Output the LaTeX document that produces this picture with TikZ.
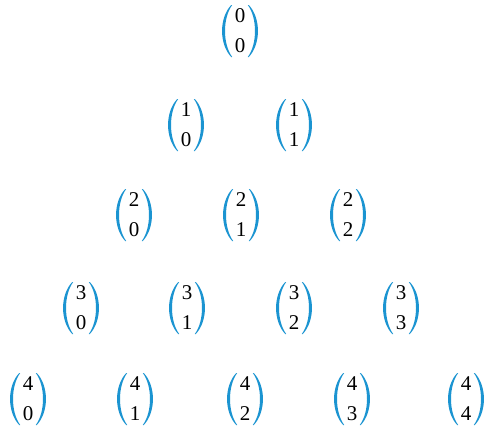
\documentclass[tikz,border=0pt]{standalone}
\usepackage{fontspec}
\setmainfont{Liberation Serif}
\definecolor{pblue}{RGB}{27,148,209}
\tikzset{
  binnode/.style={inner sep=0pt, align=center, font=\fontsize{21}{30}\selectfont},
}
\newcommand\parens[1]{%
  \begin{scope}[shift={(#1.center)}]
    \fill[pblue] (-8.8,-26) .. controls (-21,-13) and (-21,13) .. (-8.8,26)
      -- (-7.8,26) .. controls (-17.4,13) and (-17.4,-13) .. (-7.8,-26) -- cycle;
    \fill[pblue] (8.8,-26) .. controls (21,-13) and (21,13) .. (8.8,26)
      -- (7.8,26) .. controls (17.4,13) and (17.4,-13) .. (7.8,-26) -- cycle;
  \end{scope}}
\newcommand\bino[4]{%
  \node[binnode] (#1) at (#2) {#3\\#4};
  \parens{#1}}
\begin{document}
\begin{tikzpicture}[x=1pt,y=-1pt]
\useasboundingbox (0,0) rectangle (486,426);
\bino{b00}{240,31}{0}{0}
\bino{b10}{186,125}{1}{0}
\bino{b11}{294,125}{1}{1}
\bino{b20}{134,215}{2}{0}
\bino{b21}{241,215}{2}{1}
\bino{b22}{348,215}{2}{2}
\bino{b30}{81,308}{3}{0}
\bino{b31}{187,308}{3}{1}
\bino{b32}{294,308}{3}{2}
\bino{b33}{401,308}{3}{3}
\bino{b40}{28,399}{4}{0}
\bino{b41}{135,399}{4}{1}
\bino{b42}{245,399}{4}{2}
\bino{b43}{352,399}{4}{3}
\bino{b44}{466,399}{4}{4}
\end{tikzpicture}
\end{document}
